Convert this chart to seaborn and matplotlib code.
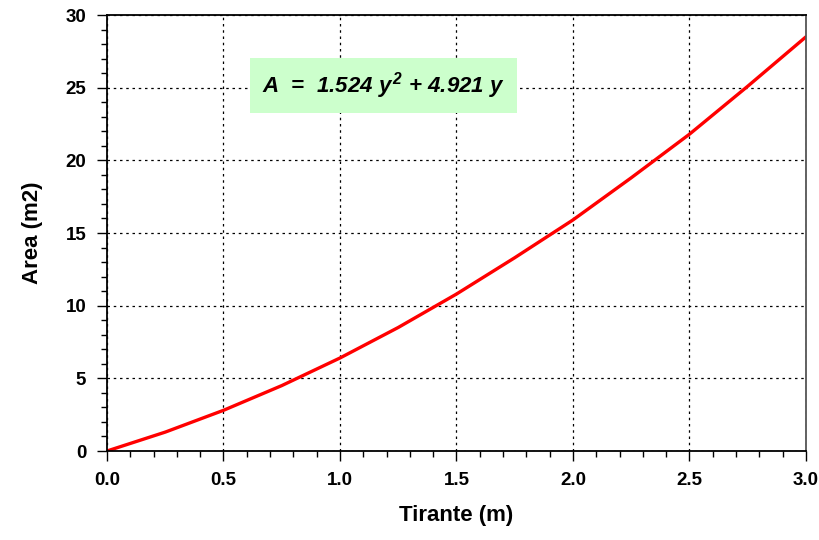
import pandas as pd
import matplotlib.pyplot as plt
import seaborn as sns
from matplotlib.ticker import MultipleLocator

# valores
tirante = [0.0, 0.25, 0.5, 0.75, 1.0, 1.25, 1.5, 1.75, 2.0, 2.25, 2.5, 2.75, 3.0]
area = [0.0, 1.3, 2.8, 4.5, 6.4, 8.5, 10.8, 13.3, 15.9, 18.8, 21.8, 25.1, 28.5]

df = pd.DataFrame({"tirante": tirante, "area": area})

sns.set_theme(style="white")
plt.rcParams['font.family'] = ['Liberation Sans', 'DejaVu Sans']
plt.rcParams['text.color'] = 'black'
plt.rcParams['axes.labelcolor'] = 'black'
plt.rcParams['mathtext.fontset'] = 'custom'
plt.rcParams['mathtext.rm'] = 'Liberation Sans:italic:bold'
plt.rcParams['mathtext.it'] = 'Liberation Sans:italic:bold'

fig = plt.figure(figsize=(8.2, 5.4), dpi=100)
ax = fig.add_axes([107 / 820, 1 - 451 / 540, (806 - 107) / 820, (451 - 15) / 540])

sns.lineplot(data=df, x="tirante", y="area", color="red", linewidth=2.4, ax=ax)

ax.set_xlim(0, 3)
ax.set_ylim(0, 30)
ax.xaxis.set_major_locator(MultipleLocator(0.5))
ax.xaxis.set_minor_locator(MultipleLocator(0.1))
ax.yaxis.set_major_locator(MultipleLocator(5))
ax.yaxis.set_minor_locator(MultipleLocator(1))
ax.xaxis.set_major_formatter(plt.FormatStrFormatter('%.1f'))

ax.tick_params(which="major", direction="out", length=7, width=1, colors="black",
               labelsize=13.5, bottom=True, left=True, pad=8)
ax.tick_params(which="minor", direction="out", length=4, width=1, colors="black",
               bottom=True, left=True)
for lab in ax.get_xticklabels() + ax.get_yticklabels():
    lab.set_fontweight("bold")

ax.grid(which="major", color="black", linestyle=(0, (2, 3)), linewidth=0.9)

for s in ["top", "left", "bottom"]:
    ax.spines[s].set_color("black")
    ax.spines[s].set_linewidth(1.3)
ax.spines["right"].set_color("#555555")
ax.spines["right"].set_linewidth(1.3)

ax.set_xlabel("Tirante (m)", fontsize=16, fontweight="bold", labelpad=12)
ax.set_ylabel("Area (m2)", fontsize=16, fontweight="bold", labelpad=16)

ax.text(0.665, 25.15, r"A  =  1.524 y$^{\,2}$ + 4.921 y",
        fontsize=16, fontweight="bold", fontstyle="italic", va="center", ha="left",
        bbox=dict(boxstyle="square,pad=0.55", facecolor="#ccffcc", edgecolor="none"))

fig.savefig("out.png", dpi=100)
